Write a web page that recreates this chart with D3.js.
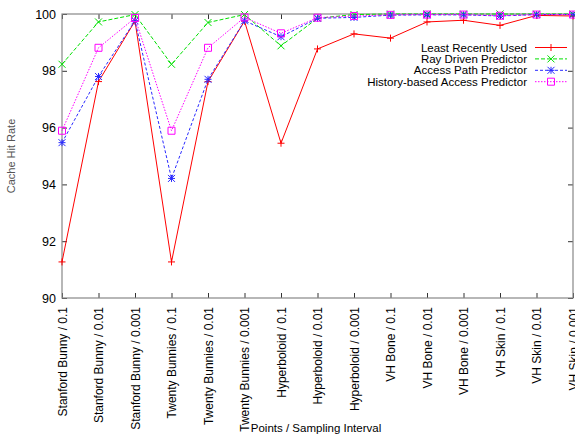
<!DOCTYPE html>
<html>
<head>
<meta charset="utf-8">
<script src="https://cdn.jsdelivr.net/npm/d3@7/dist/d3.min.js"></script>
<style>
  html, body { margin: 0; padding: 0; background: #fff; }
  svg { display: block; }
  text { font-family: "Liberation Sans", Arial, sans-serif; }
</style>
</head>
<body>
<svg id="chart" width="575" height="439"></svg>
<script>
// Datasets and sampling intervals along the x axis
const categories = [
  "Stanford Bunny / 0.1", "Stanford Bunny / 0.01", "Stanford Bunny / 0.001",
  "Twenty Bunnies / 0.1", "Twenty Bunnies / 0.01", "Twenty Bunnies / 0.001",
  "Hyperboloid / 0.1", "Hyperboloid / 0.01", "Hyperboloid / 0.001",
  "VH Bone / 0.1", "VH Bone / 0.01", "VH Bone / 0.001",
  "VH Skin / 0.1", "VH Skin / 0.01", "VH Skin / 0.001"
];

// Cache hit rate (%) per policy
const lruValues = [91.27, 97.62, 99.75, 91.27, 97.62, 99.75, 95.45, 98.77, 99.30, 99.15, 99.72, 99.78, 99.60, 99.95, 99.93];
const rayDrivenValues = [98.23, 99.72, 99.98, 98.23, 99.70, 99.98, 98.88, 99.85, 99.98, 100.0, 100.0, 100.0, 100.0, 100.0, 100.0];
const accessPathValues = [95.47, 97.80, 99.76, 94.21, 97.70, 99.76, 99.20, 99.85, 99.88, 99.96, 99.97, 99.97, 99.93, 99.98, 99.98];
const historyValues = [95.89, 98.81, 99.86, 95.89, 98.81, 99.88, 99.32, 99.87, 99.93, 99.97, 99.98, 99.98, 99.94, 99.98, 99.98];

const yTicks = [90, 92, 94, 96, 98, 100];

const series = [
  { name: "Least Recently Used", values: lruValues, color: "#ff0000", dash: null, marker: "plus" },
  { name: "Ray Driven Predictor", values: rayDrivenValues, color: "#00e000", dash: "4,2", marker: "cross" },
  { name: "Access Path Predictor", values: accessPathValues, color: "#2a2aff", dash: "3,2", marker: "star" },
  { name: "History-based Access Predictor", values: historyValues, color: "#ff00ff", dash: "1.5,1.5", marker: "box" }
];

const margin = { left: 62, right: 2, top: 14, bottom: 141 };
const width = 575, height = 439;
const svg = d3.select("#chart");

const x = d3.scalePoint()
  .domain(categories)
  .range([margin.left, width - margin.right]);

const y = d3.scaleLinear()
  .domain([90, 100])
  .range([height - margin.bottom, margin.top]);

const x0 = margin.left, x1 = width - margin.right;
const y0 = height - margin.bottom, y1 = margin.top;

// Bottom axis with inward ticks and rotated labels
const bottomAxis = svg.append("g")
  .attr("transform", `translate(0,${y0})`)
  .call(d3.axisBottom(x).tickSizeInner(-5).tickSizeOuter(0).tickPadding(6));
bottomAxis.select(".domain").remove();
bottomAxis.selectAll(".tick line").attr("stroke", "#333");
bottomAxis.selectAll(".tick text")
  .attr("transform", "rotate(-90)")
  .attr("x", -9)
  .attr("y", 0)
  .attr("dy", "0.35em")
  .attr("text-anchor", "end")
  .attr("font-size", 12)
  .attr("fill", "#000")
  .style("font-family", "'Liberation Sans', Arial, sans-serif");

// Top axis: ticks only
const topAxis = svg.append("g")
  .attr("transform", `translate(0,${y1})`)
  .call(d3.axisTop(x).tickSizeInner(-5).tickSizeOuter(0).tickFormat(""));
topAxis.select(".domain").remove();
topAxis.selectAll(".tick line").attr("stroke", "#333");

// Left axis
const leftAxis = svg.append("g")
  .attr("transform", `translate(${x0},0)`)
  .call(d3.axisLeft(y).tickValues(yTicks).tickSizeInner(-5).tickSizeOuter(0).tickPadding(6));
leftAxis.select(".domain").remove();
leftAxis.selectAll(".tick line").attr("stroke", "#333");
leftAxis.selectAll(".tick text")
  .attr("font-size", 12.5)
  .attr("fill", "#000")
  .style("font-family", "'Liberation Sans', Arial, sans-serif");

// Right axis: ticks only
const rightAxis = svg.append("g")
  .attr("transform", `translate(${x1},0)`)
  .call(d3.axisRight(y).tickValues(yTicks).tickSizeInner(-5).tickSizeOuter(0).tickFormat(""));
rightAxis.select(".domain").remove();
rightAxis.selectAll(".tick line").attr("stroke", "#333");

// Plot border
svg.append("rect")
  .attr("x", x0).attr("y", y1)
  .attr("width", x1 - x0).attr("height", y0 - y1)
  .attr("fill", "none")
  .attr("stroke", "#888")
  .attr("stroke-width", 1.2);

// Marker shapes
function drawMarker(g, type, cx, cy, color) {
  const s = 3.5;
  const p = g.append("path").attr("fill", "none").attr("stroke", color).attr("stroke-width", 1);
  if (type === "plus") {
    p.attr("d", `M${cx - s},${cy}H${cx + s}M${cx},${cy - s}V${cy + s}`);
  } else if (type === "cross") {
    p.attr("d", `M${cx - s},${cy - s}L${cx + s},${cy + s}M${cx - s},${cy + s}L${cx + s},${cy - s}`);
  } else if (type === "star") {
    p.attr("d", `M${cx - s},${cy}H${cx + s}M${cx},${cy - s}V${cy + s}M${cx - s},${cy - s}L${cx + s},${cy + s}M${cx - s},${cy + s}L${cx + s},${cy - s}`);
  } else if (type === "box") {
    p.attr("d", `M${cx - s},${cy - s}H${cx + s}V${cy + s}H${cx - s}Z`);
  }
}

const line = d3.line()
  .x((d, i) => x(categories[i]))
  .y(d => y(d));

const plot = svg.append("g");
series.forEach(s => {
  plot.append("path")
    .datum(s.values)
    .attr("d", line)
    .attr("fill", "none")
    .attr("stroke", s.color)
    .attr("stroke-width", 1)
    .attr("stroke-dasharray", s.dash);
  const mg = plot.append("g");
  s.values.forEach((v, i) => drawMarker(mg, s.marker, x(categories[i]), y(v), s.color));
});

// Legend
const legend = svg.append("g");
const legendRight = 527, legendTop = 47.5, rowH = 11.4;
series.forEach((s, i) => {
  const ly = legendTop + i * rowH;
  legend.append("text")
    .attr("x", legendRight).attr("y", ly)
    .attr("dy", "0.35em")
    .attr("text-anchor", "end")
    .attr("font-size", 11.5)
    .attr("fill", "#000")
    .text(s.name);
  legend.append("line")
    .attr("x1", 535).attr("x2", 567)
    .attr("y1", ly).attr("y2", ly)
    .attr("stroke", s.color)
    .attr("stroke-width", 1)
    .attr("stroke-dasharray", s.dash);
  drawMarker(legend, s.marker, 551, ly, s.color);
});

// Axis titles
svg.append("text")
  .attr("transform", `translate(15,${(y0 + y1) / 2}) rotate(-90)`)
  .attr("text-anchor", "middle")
  .attr("font-size", 11)
  .attr("fill", "#555")
  .text("Cache Hit Rate");

svg.append("text")
  .attr("x", 316).attr("y", 432)
  .attr("text-anchor", "middle")
  .attr("font-size", 11.5)
  .attr("fill", "#000")
  .text("Points / Sampling Interval");
</script>
</body>
</html>
